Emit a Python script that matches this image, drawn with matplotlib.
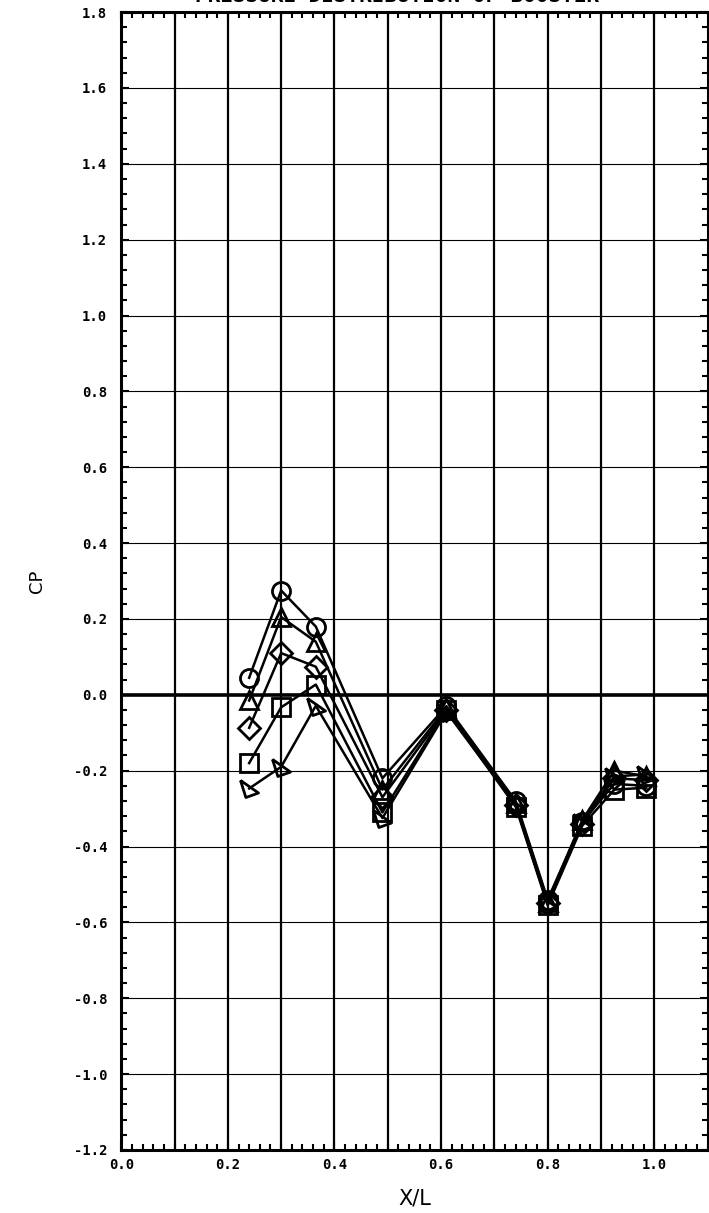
#!/usr/bin/env python3
"""Pressure coefficient distribution along the body, several runs."""

import matplotlib

matplotlib.use("Agg")
import matplotlib.pyplot as plt
from matplotlib.ticker import MultipleLocator
import numpy as np


X_STATIONS = [0.24, 0.30, 0.365, 0.49, 0.61, 0.74, 0.80, 0.865, 0.925, 0.985]

CP_CIRCLE = [0.045, 0.275, 0.180, -0.22, -0.030, -0.280, -0.540, -0.335, -0.235, -0.240]
CP_TRIANGLE = [-0.015, 0.205, 0.140, -0.25, -0.035, -0.285, -0.545, -0.330, -0.200, -0.215]
CP_DIAMOND = [-0.087, 0.110, 0.074, -0.27, -0.040, -0.290, -0.550, -0.340, -0.220, -0.225]
CP_SQUARE = [-0.180, -0.033, 0.027, -0.31, -0.040, -0.295, -0.555, -0.345, -0.250, -0.245]
CP_FLAG = [-0.247, -0.190, -0.029, -0.325, -0.045, -0.290, -0.550, -0.335, -0.215, -0.210]

FLAG_MARKER = [(-1.0, 0.9), (-0.4, -1.0), (1.0, -0.5), (-1.0, 0.9)]

SERIES = [
    (CP_CIRCLE, "o"),
    (CP_TRIANGLE, "^"),
    (CP_DIAMOND, "D"),
    (CP_SQUARE, "s"),
    (CP_FLAG, FLAG_MARKER),
]

TICK_FONT = {"family": "DejaVu Sans Mono", "weight": "bold", "size": 10}


def label(value: float) -> str:
    return f"{round(value, 1) + 0.0:.1f}"


def main() -> None:
    figure = plt.figure(figsize=(7.09, 12.13), dpi=100)
    axis = figure.add_axes([0.171, 0.052, 0.827, 0.938])

    for values, marker in SERIES:
        size = 11 if marker == "D" else 13
        axis.plot(
            X_STATIONS, values, color="black", linewidth=1.8,
            marker=marker, markersize=size, markerfacecolor="none",
            markeredgecolor="black", markeredgewidth=2.0, zorder=4,
        )

    axis.set_xlim(0.0, 1.1)
    axis.set_ylim(-1.2, 1.8)

    for x_line in np.arange(0.1, 1.1, 0.1):
        axis.axvline(x_line, color="black", linewidth=1.6, zorder=1)
    for y_line in np.arange(-1.0, 1.8, 0.2):
        if abs(y_line) < 1e-9:
            continue
        axis.axhline(y_line, color="black", linewidth=0.8, zorder=1)
    axis.axhline(0.0, color="black", linewidth=2.6, zorder=2)

    x_ticks = np.arange(0.0, 1.05, 0.2)
    y_ticks = np.arange(-1.2, 1.81, 0.2)
    axis.set_xticks(x_ticks)
    axis.set_xticklabels([label(v) for v in x_ticks], **TICK_FONT)
    axis.set_yticks(y_ticks)
    axis.set_yticklabels([label(v) for v in y_ticks], **TICK_FONT)
    axis.xaxis.set_minor_locator(MultipleLocator(0.02))
    axis.yaxis.set_minor_locator(MultipleLocator(0.04))
    axis.tick_params(
        which="both", direction="in", top=True, right=True,
        width=1.5, color="black",
    )
    axis.tick_params(which="major", length=6, labelright=False, labeltop=False)
    axis.tick_params(which="minor", length=4)
    axis.tick_params(axis="x", pad=6)
    axis.tick_params(axis="y", pad=10)

    for spine in axis.spines.values():
        spine.set_linewidth(2.2)

    axis.set_xlabel("X/L", fontsize=15, labelpad=12)
    axis.set_ylabel("CP", fontsize=13, labelpad=20)

    figure.text(
        0.56, 1.003, "PRESSURE DISTRIBUTION OF BOOSTER",
        ha="center", va="center", fontsize=15, family="DejaVu Sans Mono",
        weight="bold",
    )

    figure.savefig("out.png", dpi=100)
    plt.close(figure)


if __name__ == "__main__":
    main()
